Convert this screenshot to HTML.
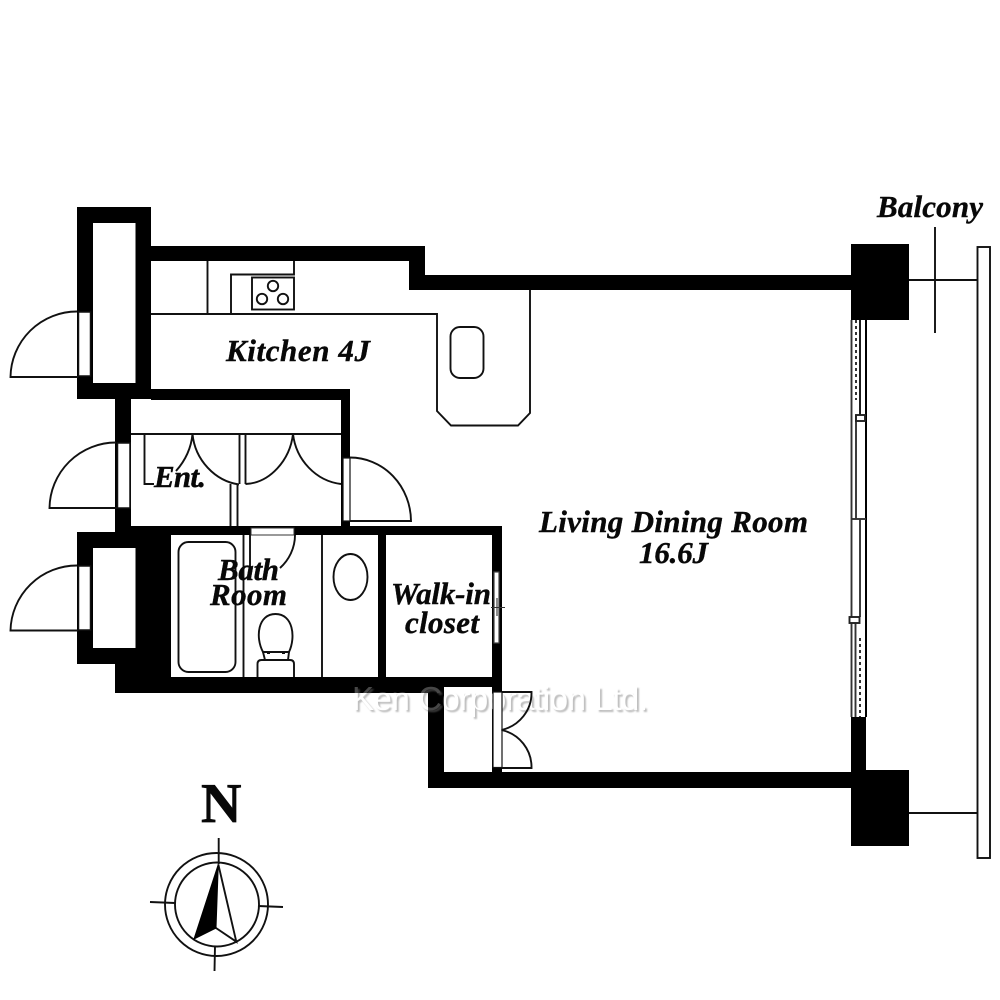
<!DOCTYPE html>
<html><head><meta charset="utf-8"><style>
html,body{margin:0;padding:0;background:#fff}
svg{display:block}
text.l{font-family:"Liberation Serif",serif;font-weight:bold;font-style:italic;font-size:31px;fill:#080808;stroke:#080808;stroke-width:.4px}
text.w{font-family:"Liberation Sans",sans-serif;font-weight:normal;font-style:normal;font-size:33px}
</style></head><body>
<svg width="1000" height="1000" viewBox="0 0 1000 1000" xmlns="http://www.w3.org/2000/svg">
<defs><filter id="b" x="-5%" y="-30%" width="110%" height="160%"><feGaussianBlur stdDeviation="0.9"/></filter></defs>
<rect width="1000" height="1000" fill="#fff"/>
<!-- walls -->
<g fill="#000">
<rect x="77" y="207" width="74" height="192"/>
<rect x="151" y="246" width="274" height="15"/>
<rect x="409" y="246" width="16" height="44"/>
<rect x="409" y="275" width="442" height="15"/>
<rect x="151" y="389" width="199" height="11"/>
<rect x="341" y="389" width="9" height="137"/>
<rect x="115" y="399" width="16" height="127"/>
<rect x="115" y="526" width="387" height="9"/>
<rect x="77" y="532" width="94" height="132"/>
<rect x="115" y="532" width="56" height="161"/>
<rect x="115" y="677" width="329" height="16"/>
<rect x="378" y="535" width="8" height="142"/>
<rect x="492" y="526" width="10" height="246"/>
<rect x="428" y="677" width="74" height="10"/>
<rect x="428" y="677" width="16" height="111"/>
<rect x="428" y="772" width="423" height="16"/>
<rect x="851" y="244" width="58" height="76"/>
<rect x="851" y="770" width="58" height="76"/>
<rect x="851" y="717" width="15" height="53"/>
</g>
<g fill="#fff">
<rect x="93" y="223" width="42.500" height="160"/>
<rect x="93" y="548" width="42.500" height="100"/>
</g>
<!-- watermark -->
<text class="w" x="354" y="712" textLength="296" fill="#bdbdbd" filter="url(#b)">Ken Corporation Ltd.</text>
<text class="w" x="352" y="710" textLength="296" fill="#fff">Ken Corporation Ltd.</text>
<g fill="#000" fill-opacity=".72">
<rect x="352" y="677" width="92" height="16"/>
<rect x="428" y="693" width="16" height="25"/>
<rect x="492" y="677" width="10" height="15"/>
</g>
<g fill="#fff" stroke="#111" stroke-width="1.500">
<!-- left doors -->
<rect x="78.500" y="312" width="12" height="64"/>
<rect x="117.500" y="443" width="12.500" height="65"/>
<rect x="78.500" y="566" width="12" height="64"/>
<!-- right ent door -->
<rect x="343" y="458" width="7" height="63" stroke-width="1.200"/>
<!-- lower closet door -->
<rect x="493" y="692" width="9" height="75.500" stroke-width="1.200"/>
</g>
<rect x="251" y="528" width="43" height="7" fill="#fff" stroke="#333" stroke-width="1"/>
<g fill="none" stroke="#111" stroke-width="1.900">
<path d="M77 311.500A66.500 66.500 0 0 0 10.500 377H78"/>
<path d="M116 442.500A66.500 66.500 0 0 0 49.500 508H117"/>
<path d="M77 565.500A66.500 66.500 0 0 0 10.500 630.500H78"/>
<path d="M350 457.500A61 64 0 0 1 411 521H350"/>
<path d="M502 692H531.500A39 38 0 0 1 501.500 730A38 38 0 0 1 531.500 768H502"/>
<!-- kitchen -->
<path d="M207.500 261V314M231 314V274.500H294V261"/>
<rect x="252" y="277.500" width="42" height="32"/>
<circle cx="273" cy="286" r="5.200"/><circle cx="262" cy="299" r="5.200"/><circle cx="283" cy="299" r="5.200"/>
<path d="M151 314H437V411L451 425.500H518L530 413V290"/>
<rect x="450.500" y="327" width="33" height="51" rx="9.500"/>
<!-- ent closets -->
<path d="M131 434H341"/>
<path d="M144.500 434V484H154"/>
<path d="M192.500 434C191 450 184 462 176 471M192.500 434C195 460 215 481 239 484.500"/>
<path d="M239.500 434V484M245.500 434V484"/>
<path d="M293 434C290 460 270 483 245.500 484M293 434C296 460 316 481 341 484"/>
<path d="M230.500 484V526M237.500 484V526"/>
<!-- bath -->
<path d="M243.500 535V677M250 535V572"/>
<path d="M295 535C295 548 289 560 280 568"/>
<path d="M322 535V677"/>
<rect x="178.500" y="542" width="57" height="130" rx="10"/>
<ellipse cx="350.500" cy="577" rx="17" ry="23"/>
<path d="M263 652C255 637 258 614 275.500 614C293 614 296 637 289 652Z"/>
<path d="M263 652L265 660M289 652L288 660"/>
<path d="M267 653h3M282 653h3" stroke-width="2"/>
<path d="M257.500 677V664Q257.500 660 261.500 660H290Q294 660 294 664V677"/>
<!-- balcony -->
<rect x="977.500" y="247" width="12.500" height="611"/>
<path d="M909 280H977M909 813H977M935 227V333"/>
<!-- windows -->
<path d="M866 320V717" stroke-width="2" stroke="#000"/>
<path d="M851.500 320V717" stroke="#333"/>
<path d="M860 320V415"/>
<path d="M856 415V519" stroke="#333"/>
<path d="M860 519V617" stroke="#333"/>
<path d="M855.500 623V717" stroke="#333"/>
<path d="M856 320V400" stroke="#333" stroke-width="2" stroke-dasharray="3 3"/>
<path d="M860 638V717" stroke="#333" stroke-width="2" stroke-dasharray="3 3"/>
<rect x="856" y="415" width="9" height="6" stroke="#222" fill="#fff"/>
<path d="M851 519H866" stroke="#333"/>
<rect x="849.500" y="617" width="10" height="6" stroke="#222" fill="#fff"/>
<!-- closet window -->
<rect x="494" y="572" width="5" height="71" fill="#fff" stroke="#444" stroke-width="1.200"/>
<path d="M491 607.500H505M497 598V616" stroke-width="1.100" stroke="#333"/>
<!-- compass -->
<circle cx="216.500" cy="904.500" r="51.500"/>
<circle cx="217" cy="904.500" r="42"/>
<path d="M218.700 838V864M215 946L214.500 971M150 902L175 903M258 906L283 907"/>
<path d="M218.300 864.300L236.300 941.700L216 928"/>
</g>
<path d="M218.300 864.300L194 939L216 928Z" fill="#000" stroke="#000" stroke-width="1"/>
<!-- labels -->
<text class="l" x="877" y="217" textLength="106">Balcony</text>
<text class="l" x="226" y="361" textLength="144">Kitchen 4J</text>
<text class="l" x="154" y="487" textLength="52">Ent.</text>
<text class="l" x="539" y="532" textLength="269">Living Dining Room</text>
<text class="l" x="639" y="563" textLength="69">16.6J</text>
<text class="l" x="218" y="580" textLength="61">Bath</text>
<text class="l" x="210" y="605" textLength="77">Room</text>
<text class="l" x="391" y="604" textLength="100">Walk-in</text>
<text class="l" x="405" y="633" textLength="74">closet</text>
<text class="l" x="201" y="822" style="font-style:normal;font-size:56px;stroke-width:.7px">N</text>
</svg>
</body></html>
